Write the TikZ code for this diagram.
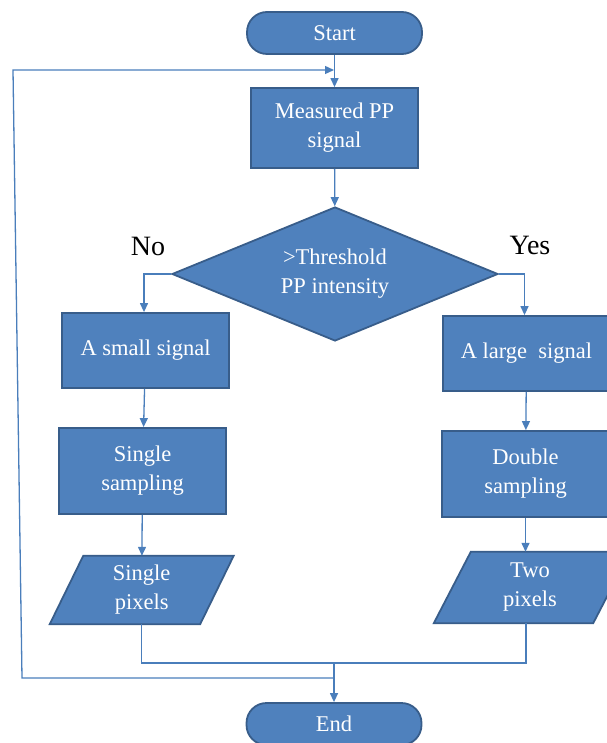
\documentclass[tikz,border=0pt]{standalone}
\usepackage{fontspec}
\setmainfont{Liberation Serif}
\newfontfamily\tnr{Liberation Serif}
\usetikzlibrary{shapes.geometric,arrows.meta,backgrounds,calc}
\definecolor{boxfill}{RGB}{79,129,189}
\definecolor{boxline}{RGB}{56,93,138}
\definecolor{conncol}{RGB}{74,126,187}
\begin{document}
\begin{tikzpicture}[x=1pt,y=-1pt,
 txt/.style={text=white, font=\tnr\fontsize{22.5}{29}\selectfont, align=center, inner sep=0pt},
 box/.style={txt, draw=boxline, fill=boxfill, line width=1.8pt},
 term/.style={box, rounded corners=20pt, minimum width=175pt, minimum height=42pt},
 proc/.style={box, minimum width=167pt},
 dec/.style={box, diamond, aspect=2.43, minimum width=326pt, minimum height=134pt},
 io/.style={txt},
 para/.style={draw=boxline, fill=boxfill, line width=1.8pt},
 conn/.style={draw=conncol, line width=1.3pt},
 arr/.style={conn, -{Triangle[length=9pt,width=8pt]}},
 lbl/.style={font=\tnr\fontsize{28}{30}\selectfont, text=black, inner sep=0pt}
]
\useasboundingbox (0,0) rectangle (606,743);

\node[term] (start) at (334.5,33) {Start};
\node[proc, minimum height=80pt] (meas) at (334.5,128) {Measured PP\\signal};
\node[dec] (thr) at (335,274) {>Threshold\\PP intensity};
\node[lbl] (no) at (148,246) {No};
\node[lbl] (yes) at (530,245) {Yes};
\node[proc, minimum height=75pt] (small) at (145.5,350.5) {A small signal};
\node[proc, minimum height=75pt] (large) at (526.5,353.5) {A large\ \ signal};
\node[proc, minimum height=86pt] (ssamp) at (142.5,471) {Single\\sampling};
\node[proc, minimum height=86pt] (dsamp) at (525.5,474) {Double\\sampling};
\node[io, minimum width=150pt, minimum height=68pt] (spix) at (141.7,590) {Single\\pixels};
\node[io, minimum width=159pt, minimum height=71pt] (tpix) at (530,587.5) {Two\\pixels};
\node[term] (end) at (334,724) {End};

\begin{scope}[on background layer]
\draw[para] ($(spix.south west)+(-16.75,0)$) -- ($(spix.south east)+(-16.75,0)$)
  -- ($(spix.north east)+(16.75,0)$) -- ($(spix.north west)+(16.75,0)$) -- cycle;
\draw[para] ($(tpix.south west)+(-16.5,0)$) -- ($(tpix.south east)+(-16.5,0)$)
  -- ($(tpix.north east)+(20.5,0)$) -- ($(tpix.north west)+(20.5,0)$) -- cycle;
\end{scope}

\draw[arr] (start) -- (meas);
\draw[arr] (meas) -- (thr);
\draw[arr] (thr.west) -| ($(small.north)+(-1.5,0)$);
\draw[arr] (thr.east) -| ($(large.north)+(-2,0)$);
\draw[arr] (small) -- (ssamp);
\draw[arr] (large) -- (dsamp);
\draw[arr] (ssamp) -- (spix);
\draw[arr] (dsamp.south) -- (dsamp.south |- tpix.north);

\coordinate (jn) at (334,663);
\coordinate (tpb) at (526,623);
\draw[conn] (spix.south) |- (jn) -| (tpb);
\draw[arr] (jn) -- (end);

\coordinate (j2) at (334,678);
\coordinate (lb) at (22,678);
\coordinate (lt) at (13,70);
\coordinate (lend) at (334,70);
\draw[arr] (j2) -- (lb) -- (lt) -- (lend);
\end{tikzpicture}
\end{document}
